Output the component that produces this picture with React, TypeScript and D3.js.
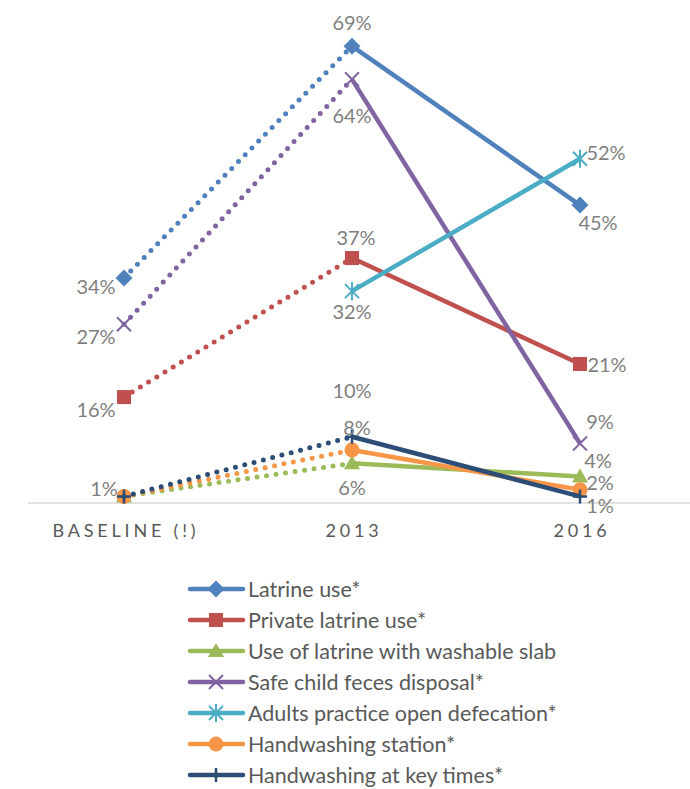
import React from "react";
import * as d3 from "d3";

// Survey rounds on the x axis
const periods = ["BASELINE (!)", "2013", "2016"];

// Indicator names, in drawing order
const seriesNames = [
  "Latrine use*",
  "Private latrine use*",
  "Use of latrine with washable slab",
  "Safe child feces disposal*",
  "Adults practice open defecation*",
  "Handwashing station*",
  "Handwashing at key times*",
];

// Percentages per period (null = not measured)
const latrineUse = [34, 69, 45];
const privateLatrineUse = [16, 37, 21];
const washableSlab = [1, 6, 4];
const childFecesDisposal = [27, 64, 9];
const openDefecation = [null, 32, 52];
const handwashingStation = [1, 8, 2];
const handwashingKeyTimes = [1, 10, 1];

// Which points carry a value label
const latrineUseLabels = [true, true, true];
const privateLatrineUseLabels = [true, true, true];
const washableSlabLabels = [false, true, true];
const childFecesLabels = [true, true, true];
const openDefecationLabels = [false, true, true];
const handwashingStationLabels = [false, true, true];
const handwashingKeyTimesLabels = [true, true, true];

type Marker = "diamond" | "square" | "triangle" | "x" | "star" | "circle" | "plus";

const W = 690;
const H = 789;

const colors = ["#4F81BD", "#C0504D", "#9BBB59", "#8064A2", "#4BACC6", "#F79646", "#2C4D75"];
const markers: Marker[] = ["diamond", "square", "triangle", "x", "star", "circle", "plus"];
const values = [
  latrineUse,
  privateLatrineUse,
  washableSlab,
  childFecesDisposal,
  openDefecation,
  handwashingStation,
  handwashingKeyTimes,
];
const labelFlags = [
  latrineUseLabels,
  privateLatrineUseLabels,
  washableSlabLabels,
  childFecesLabels,
  openDefecationLabels,
  handwashingStationLabels,
  handwashingKeyTimesLabels,
];

// Label offsets (dx, dy) from each point, per series and period
const labelOffsets: [number, number][][] = [
  [[-28, 8], [0, -24], [18, 17]],
  [[-28, 12], [4, -21], [27, 0]],
  [[0, 0], [0, 24], [18, -17]],
  [[-28, 12], [0, 36], [20, -22]],
  [[0, 0], [0, 20], [26, -7]],
  [[0, 0], [5, -23], [20, -8]],
  [[-20, -8], [0, -47], [20, 9]],
];

const x = d3.scalePoint<string>().domain(periods).range([124, 580]);
const y = d3.scaleLinear().domain([0, 70]).range([503, 39.6]);

const FONT = "Lato, 'Open Sans', sans-serif";

function MarkerShape({ type, cx, cy, color }: { type: Marker; cx: number; cy: number; color: string }) {
  const s = 7;
  switch (type) {
    case "diamond":
      return (
        <path
          d={`M${cx},${cy - s - 1.5}L${cx + s + 1.5},${cy}L${cx},${cy + s + 1.5}L${cx - s - 1.5},${cy}Z`}
          fill={color}
        />
      );
    case "square":
      return <rect x={cx - s} y={cy - s} width={2 * s} height={2 * s} fill={color} />;
    case "triangle":
      return (
        <path d={`M${cx},${cy - s - 1}L${cx + s + 1},${cy + s - 1}L${cx - s - 1},${cy + s - 1}Z`} fill={color} />
      );
    case "circle":
      return <circle cx={cx} cy={cy} r={s + 0.5} fill={color} />;
    case "x":
      return (
        <path
          d={`M${cx - s},${cy - s}L${cx + s},${cy + s}M${cx - s},${cy + s}L${cx + s},${cy - s}`}
          stroke={color}
          strokeWidth={2}
          fill="none"
        />
      );
    case "star":
      return (
        <path
          d={`M${cx - s},${cy - s}L${cx + s},${cy + s}M${cx - s},${cy + s}L${cx + s},${cy - s}M${cx},${cy - s - 2}L${cx},${cy + s + 2}`}
          stroke={color}
          strokeWidth={2}
          fill="none"
        />
      );
    case "plus":
      return (
        <path
          d={`M${cx - s},${cy}L${cx + s},${cy}M${cx},${cy - s}L${cx},${cy + s}`}
          stroke={color}
          strokeWidth={2.5}
          fill="none"
        />
      );
  }
  return null;
}

export default function App() {
  const line = d3
    .line<[number, number]>()
    .x((d) => d[0])
    .y((d) => d[1]);

  return (
    <svg width={W} height={H} style={{ display: "block", position: "absolute", left: 0, top: 0 }}>
      <rect width={W} height={H} fill="#fff" />
      {/* baseline axis */}
      <line x1={28} x2={W} y1={y(0)} y2={y(0)} stroke="#D9D9D9" strokeWidth={1.5} />
      {periods.map((p) => (
        <text
          key={p}
          x={x(p)! + 2}
          y={537}
          textAnchor="middle"
          fontFamily={FONT}
          fontSize={18}
          letterSpacing={3.8}
          fill="#595959"
        >
          {p}
        </text>
      ))}

      {/* series lines: dotted to 2013, solid afterwards */}
      {values.map((vals, i) => {
        const pts = vals.map((v, j) => (v == null ? null : ([x(periods[j])!, y(v)] as [number, number])));
        return (
          <g key={"l" + i}>
            {pts[0] && pts[1] && (
              <path
                d={line([pts[0], pts[1]])!}
                stroke={colors[i]}
                strokeWidth={5}
                strokeDasharray="0 9.6"
                strokeLinecap="round"
                fill="none"
              />
            )}
            {pts[1] && pts[2] && (
              <path d={line([pts[1], pts[2]])!} stroke={colors[i]} strokeWidth={4.5} fill="none" />
            )}
            {pts.map((p, j) =>
              p ? <MarkerShape key={j} type={markers[i]} cx={p[0]} cy={p[1]} color={colors[i]} /> : null
            )}
          </g>
        );
      })}

      {/* value labels */}
      {values.map((vals, i) =>
        vals.map((v, j) => {
          if (v == null || !labelFlags[i][j]) return null;
          const [dx, dy] = labelOffsets[i][j];
          return (
            <text
              key={`t${i}-${j}`}
              x={x(periods[j])! + dx}
              y={y(v) + dy}
              textAnchor="middle"
              dominantBaseline="central"
              fontFamily={FONT}
              fontSize={20}
              fill="#7F7F7F"
            >
              {v}%
            </text>
          );
        })
      )}

      {/* legend */}
      {seriesNames.map((name, i) => {
        const ly = 589 + i * 31;
        return (
          <g key={"g" + i}>
            <line x1={190} x2={243} y1={ly} y2={ly} stroke={colors[i]} strokeWidth={4.5} strokeLinecap="round" />
            <MarkerShape type={markers[i]} cx={216} cy={ly} color={colors[i]} />
            <text x={248} y={ly} dominantBaseline="central" fontFamily={FONT} fontSize={21.5} fill="#595959">
              {name}
            </text>
          </g>
        );
      })}
    </svg>
  );
}
